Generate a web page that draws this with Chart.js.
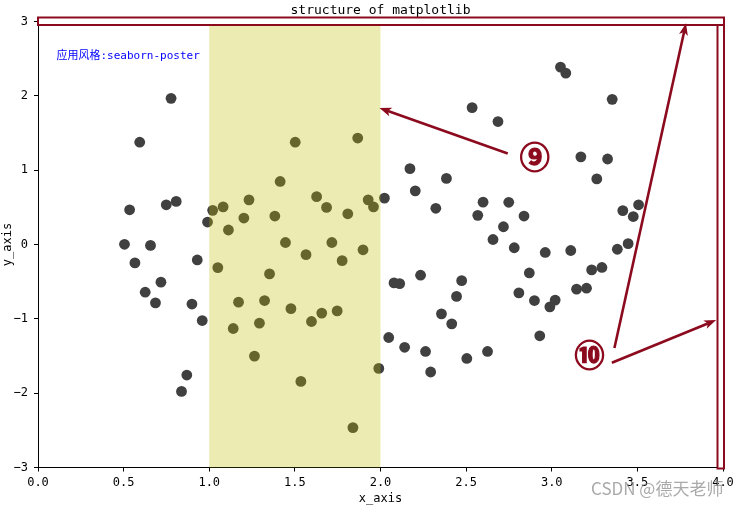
<!DOCTYPE html>
<html><head><meta charset="utf-8">
<script src="https://cdn.jsdelivr.net/npm/chart.js@4.4.1/dist/chart.umd.min.js"></script>
<style>html,body{margin:0;padding:0;background:#fff;}#wrap{width:743px;height:509px;position:relative;}</style>
</head><body><div id="wrap"><canvas id="c" width="743" height="509"></canvas></div>
<script>
const xValues = [0.505,0.535,0.566,0.594,0.626,0.657,0.686,0.718,0.749,0.777,
0.807,0.838,0.869,0.899,0.930,0.959,0.990,1.020,1.050,1.081,
1.112,1.140,1.171,1.202,1.232,1.264,1.293,1.323,1.352,1.383,
1.414,1.445,1.477,1.502,1.535,1.565,1.597,1.627,1.657,1.685,
1.716,1.747,1.776,1.809,1.839,1.867,1.898,1.928,1.959,1.990,
2.023,2.048,2.079,2.112,2.141,2.172,2.203,2.234,2.263,2.293,
2.323,2.356,2.385,2.416,2.444,2.474,2.504,2.535,2.568,2.599,
2.625,2.657,2.686,2.718,2.749,2.781,2.808,2.838,2.869,2.899,
2.930,2.962,2.989,3.020,3.051,3.082,3.111,3.145,3.170,3.203,
3.233,3.263,3.293,3.326,3.353,3.383,3.415,3.446,3.476,3.507];
const yValues = [0.003,0.467,-0.248,1.376,-0.642,-0.012,-0.785,-0.507,0.534,1.966,
0.580,-1.976,-1.756,-0.801,-0.208,-1.023,0.302,0.460,-0.311,0.507,
0.195,-1.130,-0.776,0.356,0.601,-1.501,-1.058,-0.754,-0.396,0.383,
0.848,0.027,-0.863,1.376,-1.842,-0.137,-1.036,0.644,-0.923,0.499,
0.027,-0.893,-0.217,0.413,-2.463,1.432,-0.071,0.601,0.507,-1.667,
0.624,-1.251,-0.517,-0.526,-1.383,1.020,0.722,-0.413,-1.439,-1.715,
0.487,-0.933,0.889,-1.067,-0.698,-0.486,-1.533,1.842,0.392,0.570,
-1.439,0.067,1.654,0.239,0.568,-0.044,-0.651,0.383,-0.383,-0.754,
-1.228,-0.107,-0.839,-0.748,2.387,2.306,-0.081,-0.601,1.179,-0.588,
-0.342,0.882,-0.309,1.150,1.953,-0.064,0.456,0.011,0.376,0.534];
const xTicks = [0.0,0.5,1.0,1.5,2.0,2.5,3.0,3.5,4.0];
const yTicks = [-3,-2,-1,0,1,2,3];
const spanRange = [1.0, 2.0];
const titleText = 'structure of matplotlib';
const xLabel = 'x_axis';
const yLabel = 'y_axis';
const styleNote = '应用风格:seaborn-poster';
const styleNotePos = [0.108, 2.53];
const label9 = '⑨';
const label9Pos = [2.901, 1.179];
const arrow9Start = [2.743, 1.224];
const arrow9End = [1.994, 1.836];
const label10 = '⑩';
const label10Pos = [3.220, -1.483];
const arrow10aStart = [3.366, -1.393];
const arrow10aEnd = [3.784, 2.977];
const arrow10bStart = [3.351, -1.591];
const arrow10bEnd = [3.960, -1.017];
const watermark = 'CSDN @德天老师';

const RED = '#8c0a1e';
const MONO = '"DejaVu Sans Mono", "Liberation Mono", monospace';
const CJK = '"DejaVu Sans Mono", "Noto Sans CJK SC", monospace';

function arrow(ctx, x1, y1, x2, y2) {
  const ang = Math.atan2(y2 - y1, x2 - x1);
  const L = 12, W = 4.5, notch = 3;
  const bx = x2 - L * Math.cos(ang), by = y2 - L * Math.sin(ang);
  ctx.save();
  ctx.strokeStyle = RED; ctx.fillStyle = RED; ctx.lineWidth = 2.6; ctx.lineCap = 'butt';
  ctx.beginPath(); ctx.moveTo(x1, y1);
  ctx.lineTo(x2 - (L - notch) * Math.cos(ang), y2 - (L - notch) * Math.sin(ang)); ctx.stroke();
  const px = -Math.sin(ang), py = Math.cos(ang);
  ctx.beginPath();
  ctx.moveTo(x2, y2);
  ctx.lineTo(bx + W * px, by + W * py);
  ctx.lineTo(x2 - (L - notch) * Math.cos(ang), y2 - (L - notch) * Math.sin(ang));
  ctx.lineTo(bx - W * px, by - W * py);
  ctx.closePath(); ctx.fill();
  ctx.restore();
}

const overlay = {
  id: 'overlay',
  afterDatasetsDraw(chart) {
    const {ctx, chartArea: a, scales: {x, y}} = chart;
    ctx.save();
    ctx.fillStyle = 'rgba(191,191,0,0.3)';
    const x1 = x.getPixelForValue(spanRange[0]), x2 = x.getPixelForValue(spanRange[1]);
    ctx.fillRect(x1, a.top, x2 - x1, a.bottom - a.top);
    ctx.restore();
  },
  afterDraw(chart) {
    const {ctx, chartArea: a, scales: {x, y}} = chart;
    const P = p => [x.getPixelForValue(p[0]), y.getPixelForValue(p[1])];
    ctx.save();
    // title
    ctx.fillStyle = '#000';
    ctx.font = '13px ' + MONO;
    ctx.textAlign = 'center'; ctx.textBaseline = 'alphabetic';
    ctx.fillText(titleText, (a.left + a.right) / 2, 14);
    // axis labels
    ctx.font = '12px ' + MONO;
    ctx.textBaseline = 'middle';
    ctx.fillText(xLabel, (a.left + a.right) / 2, 499);
    ctx.save();
    ctx.translate(8, (a.top + a.bottom) / 2);
    ctx.rotate(-Math.PI / 2);
    ctx.fillText(yLabel, 0, 0);
    ctx.restore();
    // style note
    ctx.fillStyle = '#0000ff';
    ctx.font = '11px ' + CJK;
    ctx.textAlign = 'left';
    const sp = P(styleNotePos);
    ctx.fillText(styleNote, sp[0], sp[1]);
    // red boxes around top and right spines
    ctx.strokeStyle = RED; ctx.lineWidth = 2;
    ctx.fillStyle = '#fff';
    ctx.fillRect(a.left, a.top - 4, a.right - a.left + 1, 7.5);
    ctx.strokeRect(a.left, a.top - 4, a.right - a.left + 1, 7.5);
    ctx.fillRect(a.right - 5.5, a.top + 3.5, 6.5, a.bottom - a.top - 2.5);
    ctx.strokeRect(a.right - 5.5, a.top + 3.5, 6.5, a.bottom - a.top - 2.5);
    // arrows
    const s9 = P(arrow9Start), e9 = P(arrow9End);
    arrow(ctx, s9[0], s9[1], e9[0], e9[1]);
    const sa = P(arrow10aStart), ea = P(arrow10aEnd);
    arrow(ctx, sa[0], sa[1], ea[0], ea[1]);
    const sb = P(arrow10bStart), eb = P(arrow10bEnd);
    arrow(ctx, sb[0], sb[1], eb[0], eb[1]);
    // circled labels
    ctx.fillStyle = RED; ctx.strokeStyle = RED; ctx.lineWidth = 1.2;
    ctx.font = 'bold 30px "Noto Sans CJK SC", "DejaVu Sans", sans-serif';
    ctx.textAlign = 'center'; ctx.textBaseline = 'middle';
    const l9 = P(label9Pos); ctx.fillText(label9, l9[0], l9[1]); ctx.strokeText(label9, l9[0], l9[1]);
    const l10 = P(label10Pos); ctx.fillText(label10, l10[0], l10[1]); ctx.strokeText(label10, l10[0], l10[1]);
    // watermark
    ctx.fillStyle = 'rgba(140,140,140,0.75)';
    ctx.font = '17px "Noto Sans CJK SC", sans-serif';
    ctx.textAlign = 'left';
    ctx.fillText(watermark, 591, 489);
    ctx.restore();
  }
};

new Chart(document.getElementById('c'), {
  type: 'scatter',
  data: { datasets: [{
    data: xValues.map((v, i) => ({x: v, y: yValues[i]})),
    backgroundColor: '#404040', borderWidth: 0, pointRadius: 5.4, pointHoverRadius: 5.4
  }]},
  options: {
    responsive: false, animation: false, events: [],
    layout: { padding: { top: 21.5, right: 20, left: 0, bottom: 0 } },
    plugins: { legend: {display: false}, title: {display: false}, tooltip: {enabled: false} },
    scales: {
      x: {
        type: 'linear', min: 0, max: 4,
        afterBuildTicks: s => { s.ticks = xTicks.map(v => ({value: v})); },
        afterFit: s => { s.height = 41.5; },
        ticks: { callback: v => v.toFixed(1), color: '#000', font: {family: MONO, size: 12}, padding: 4, maxRotation: 0, autoSkip: false },
        grid: { drawOnChartArea: false, drawTicks: true, tickLength: 4, color: '#000' },
        border: { display: true, color: '#000', width: 1 }
      },
      y: {
        type: 'linear', min: -3, max: 3,
        afterBuildTicks: s => { s.ticks = yTicks.map(v => ({value: v})); },
        afterFit: s => { s.width = 38; },
        ticks: { callback: v => (v < 0 ? '\u2212' + Math.abs(v) : String(v)), color: '#000', font: {family: MONO, size: 12}, padding: 6 },
        grid: { drawOnChartArea: false, drawTicks: true, tickLength: 4, color: '#000' },
        border: { display: true, color: '#000', width: 1 }
      }
    }
  },
  plugins: [overlay]
});
</script></body></html>
